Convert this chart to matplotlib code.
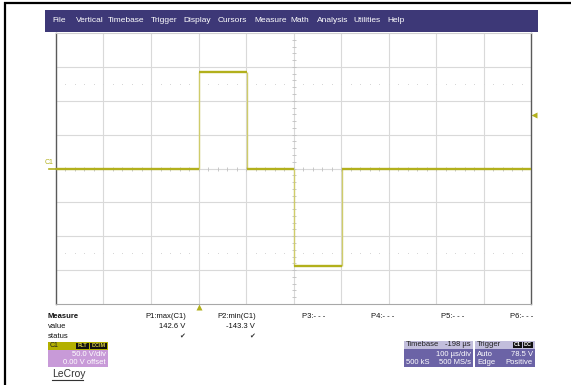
import matplotlib
matplotlib.use("Agg")
import numpy as np
from matplotlib import pyplot as plt
from matplotlib import transforms
from matplotlib.patches import Rectangle

plt.rcParams['font.family'] = ['Liberation Sans', 'DejaVu Sans']

W, H = 571, 385

# menu bar
menu_items = ["File", "Vertical", "Timebase", "Trigger", "Display", "Cursors",
              "Measure", "Math", "Analysis", "Utilities", "Help"]
menu_x = [52, 76, 108, 151, 183, 218, 254, 290, 317, 353, 387]

# channel / timebase settings
volts_per_div = 50.0
time_per_div = 100.0      # us
delay = -198.0            # us
trig_level = 78.5         # V

# C1 waveform: bipolar pulse, edge times in us and the level after each edge
edge_times = [0, 100, 200, 300]
edge_levels = [142.6, 0.0, -143.3, 0.0]
baseline = 0.0

# measurements
meas_names = ["P1:max(C1)", "P2:min(C1)", "P3:- - -", "P4:- - -", "P5:- - -", "P6:- - -"]
meas_values = ["142.6 V", "-143.3 V", "", "", "", ""]
meas_x = [186, 256, 325, 394, 464, 533]

trace_col = '#b2b01c'
edge_col = '#cfcc6a'
grid_col = '#d9d9d9'

fig = plt.figure(figsize=(W / 100, H / 100), dpi=100)

# --- screen chrome in pixel coordinates ---
ui = fig.add_axes([0, 0, 1, 1])
ui.set_xlim(0, W)
ui.set_ylim(H, 0)
ui.axis('off')

ui.plot([4, W], [2.5, 2.5], color='black', lw=1.6, solid_capstyle='butt')
ui.plot([4.5, 4.5], [2, H], color='black', lw=1.6, solid_capstyle='butt')

ui.add_patch(Rectangle((45, 10), 493, 22, color='#3d3877', lw=0))
for name, x in zip(menu_items, menu_x):
    ui.text(x, 21, name, color='white', fontsize=6, va='center', ha='left')

# measure table
ui.text(48, 316, "Measure", fontsize=5.5, fontweight='bold', va='center', color='#111')
ui.text(48, 326, "value", fontsize=5.5, va='center', color='#111')
ui.text(48, 336, "status", fontsize=5.5, va='center', color='#111')
for name, val, x in zip(meas_names, meas_values, meas_x):
    ui.text(x, 316, name, fontsize=5.5, ha='right', va='center', color='#111')
    if val:
        ui.text(x - 1, 326, val, fontsize=5.5, ha='right', va='center', color='#111')
        ui.text(x - 4, 336, "\u2714", fontsize=5, ha='center', va='center', color='#333')

# C1 channel box
ui.add_patch(Rectangle((48, 342), 60, 25, color='#c89ad8', lw=0))
ui.add_patch(Rectangle((48, 342), 60, 7.5, color='#b3b000', lw=0))
ui.text(50, 345.8, "C1", fontsize=5, va='center', color='#222')
ui.add_patch(Rectangle((76, 343), 13, 5.5, color='#111', lw=0))
ui.add_patch(Rectangle((90, 343), 17, 5.5, color='#111', lw=0))
ui.text(82.5, 345.8, "FLT", fontsize=4, ha='center', va='center', color='#d8d040', fontweight='bold')
ui.text(98.5, 345.8, "DCIM", fontsize=4, ha='center', va='center', color='#d8d040', fontweight='bold')
ui.text(106, 354, "%.1f V/div" % volts_per_div, fontsize=5.5, ha='right', va='center', color='white')
ui.text(106, 362, "0.00 V offset", fontsize=5.5, ha='right', va='center', color='white')

ui.text(52, 374, "LeCroy", fontsize=7.5, va='center', color='#333')
ui.plot([52, 83], [380, 380], color='#333', lw=0.8)

# timebase box
ui.add_patch(Rectangle((404, 341), 69, 26, color='#6b63a6', lw=0))
ui.add_patch(Rectangle((404, 341), 69, 8, color='#c2bedc', lw=0))
ui.text(406, 345, "Timebase", fontsize=5.5, va='center', color='#222')
ui.text(471, 345, "%.0f \u00b5s" % delay, fontsize=5.5, ha='right', va='center', color='#222')
ui.text(471, 354, "%.0f \u00b5s/div" % time_per_div, fontsize=5.5, ha='right', va='center', color='white')
ui.text(406, 363, "500 kS", fontsize=5.5, va='center', color='white')
ui.text(471, 363, "500 MS/s", fontsize=5.5, ha='right', va='center', color='white')

# trigger box
ui.add_patch(Rectangle((475, 341), 60, 26, color='#6b63a6', lw=0))
ui.add_patch(Rectangle((475, 341), 60, 8, color='#c2bedc', lw=0))
ui.text(477, 345, "Trigger", fontsize=5.5, va='center', color='#222')
ui.add_patch(Rectangle((513, 342), 9, 6, color='#111', lw=0))
ui.add_patch(Rectangle((523, 342), 10, 6, color='#111', lw=0))
ui.text(517.5, 345, "C1", fontsize=4, ha='center', va='center', color='white', fontweight='bold')
ui.text(528, 345, "DC", fontsize=4, ha='center', va='center', color='white', fontweight='bold')
ui.text(477, 354, "Auto", fontsize=5.5, va='center', color='white')
ui.text(533, 354, "%.1f V" % trig_level, fontsize=5.5, ha='right', va='center', color='white')
ui.text(477, 363, "Edge", fontsize=5.5, va='center', color='white')
ui.text(533, 363, "Positive", fontsize=5.5, ha='right', va='center', color='white')

# --- waveform grid ---
ax = fig.add_axes([56 / W, 1 - 304 / H, 475 / W, 271 / H])
ax.set_zorder(2)
center_t = -delay
t0, t1 = center_t - 5 * time_per_div, center_t + 5 * time_per_div
v0, v1 = -4 * volts_per_div, 4 * volts_per_div
ax.set_xlim(t0, t1)
ax.set_ylim(v0, v1)
ax.set_xticks([])
ax.set_yticks([])
for t in np.arange(1, 10) * time_per_div + t0:
    ax.axvline(t, color=grid_col, lw=0.8, zorder=1)
for v in np.arange(1, 8) * volts_per_div + v0:
    ax.axhline(v, color=grid_col, lw=0.8, zorder=1)

# minor ticks along centre lines
px_t = (t1 - t0) / 475
px_v = (v1 - v0) / 271
minor_t = np.arange(t0, t1 + 1, time_per_div / 5)
minor_v = np.arange(v0, v1 + 1, volts_per_div / 5)
ax.hlines(minor_v, center_t - 2 * px_t, center_t + 2 * px_t, color='#c0c0c0', lw=0.6, zorder=1)
ax.vlines(minor_t, -2 * px_v, 2 * px_v, color='#c0c0c0', lw=0.6, zorder=1)
for lvl in (2.5 * volts_per_div, -2.5 * volts_per_div):
    ax.plot(minor_t, np.full_like(minor_t, lvl), ls='none', marker='s', ms=0.7,
            mec='none', color='#d4d4d4', zorder=1)

for side in ('left', 'right'):
    ax.spines[side].set_color('#5a5a5a')
    ax.spines[side].set_linewidth(1.0)
ax.spines['top'].set_color('#cfcfcf')
ax.spines['bottom'].set_color('#a8a8a8')
for s in ax.spines.values():
    s.set_zorder(3)

# --- C1 trace ---
seg_start = [t0] + edge_times
seg_end = edge_times + [t1]
seg_level = [baseline] + edge_levels
prev_level = [baseline] + edge_levels[:-1]
ax.vlines(edge_times, prev_level, edge_levels, color=edge_col, lw=1.0, zorder=4)
ax.hlines(seg_level, seg_start, seg_end, color=trace_col, lw=1.7, zorder=5)

# channel, trigger level and trigger position markers
ty = transforms.blended_transform_factory(ax.transAxes, ax.transData)
tx = transforms.blended_transform_factory(ax.transData, ax.transAxes)
ax.text(-0.014, baseline + 3 * px_v, "C1", transform=ty, fontsize=5, color=trace_col,
        ha='center', va='bottom', clip_on=False)
ax.plot([-0.014, 0], [baseline, baseline], transform=ty, color=trace_col, lw=1.2, clip_on=False)
ax.plot([1.007], [trig_level], transform=ty, marker='<', ms=4, color=trace_col,
        mec='none', clip_on=False)
ax.plot([0], [-0.012], transform=tx, marker='^', ms=4, color=trace_col,
        mec='none', clip_on=False)

fig.savefig("out.png", dpi=100)
